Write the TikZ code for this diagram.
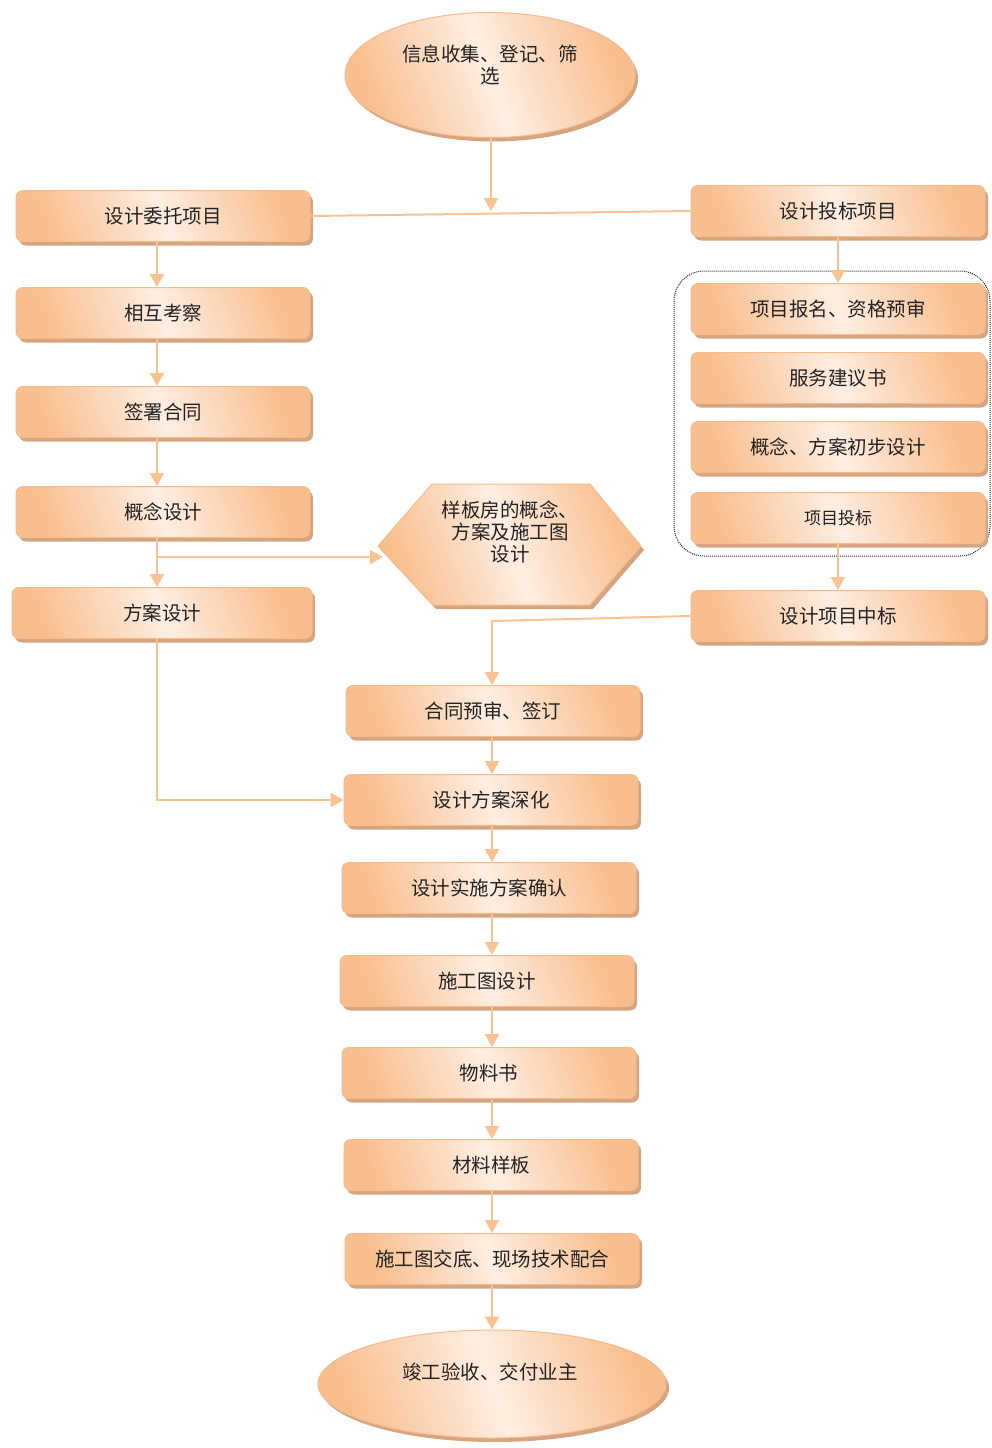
\documentclass[tikz,border=0pt]{standalone}
\usepackage{fontspec}
\newfontfamily\cjk{Noto Sans CJK SC}
\usetikzlibrary{shapes.geometric,shadows,arrows.meta}
\definecolor{edgeor}{RGB}{247,187,138}
\definecolor{darkor}{RGB}{249,190,142}
\definecolor{lightor}{RGB}{254,238,226}
\definecolor{shadowtan}{RGB}{212,165,128}
\definecolor{lineor}{RGB}{250,194,146}
\definecolor{txt}{RGB}{35,35,35}
\tikzset{
  boxfill/.style={left color=darkor, right color=darkor, middle color=lightor, shading angle=110},
  shade3d/.style={general shadow={fill=shadowtan, shadow xshift=3pt, shadow yshift=-4pt}},
  cjktext/.style={font=\cjk\fontsize{19.5}{22}\selectfont, text=txt, align=center},
  stepbox/.style={rectangle, rounded corners=7pt, draw=edgeor, line width=1pt, boxfill, shade3d,
    minimum width=294pt, minimum height=51pt, inner sep=0pt, cjktext},
  ovalbox/.style={ellipse, draw=edgeor, line width=1pt, boxfill, shade3d, inner sep=0pt},
  flow/.style={draw=lineor, line width=2pt, -{Triangle[width=14pt,length=13pt]}},
  plainline/.style={draw=lineor, line width=2pt},
}
\begin{document}
\begin{tikzpicture}[x=1pt,y=-1pt]
\useasboundingbox (0,0) rectangle (992,1448);

% top ellipse
\node[ovalbox, minimum width=290pt, minimum height=125pt] (start) at (490,75) {};
\node[cjktext] (starttxt) at (490,65) {信息收集、登记、筛\\选};

% left column
\node[stepbox] (L1) at (163,216) {设计委托项目};
\node[stepbox] (L2) at (163,313) {相互考察};
\node[stepbox] (L3) at (163,412) {签署合同};
\node[stepbox] (L4) at (163,512) {概念设计};
\node[stepbox, minimum width=300pt] (L5) at (162,613) {方案设计};

% right column
\node[stepbox] (R1) at (838,211) {设计投标项目};
\draw[densely dotted, line width=1pt, black!85, rounded corners=30pt] (674,271) rectangle (990,556);
\node[stepbox] (R2) at (838,309) {项目报名、资格预审};
\node[stepbox] (R3) at (838,378) {服务建议书};
\node[stepbox] (R4) at (838,447) {概念、方案初步设计};
\node[stepbox, font=\cjk\fontsize{17}{20}\selectfont] (R5) at (838,518) {项目投标};
\node[stepbox] (R6) at (838,616) {设计项目中标};

% hexagon
\path[draw=edgeor, line width=1pt, boxfill, shade3d]
  (432,484) -- (590,484) -- (641,546) -- (590,605) -- (433,605) -- (378,546) -- cycle;
\node[cjktext] (hex) at (510,532) {样板房的概念、\\方案及施工图\\设计};
\coordinate (hexin) at (383,557);

% middle column
\node[stepbox] (M1) at (493,711) {合同预审、签订};
\node[stepbox] (M2) at (491,800) {设计方案深化};
\node[stepbox] (M3) at (489,888) {设计实施方案确认};
\node[stepbox] (M4) at (487,981) {施工图设计};
\node[stepbox] (M5) at (489,1073) {物料书};
\node[stepbox] (M6) at (491,1165) {材料样板};
\node[stepbox] (M7) at (492,1259) {施工图交底、现场技术配合};

% bottom ellipse
\node[ovalbox, minimum width=348pt, minimum height=108pt] (finish) at (492,1384) {};
\node[cjktext] (finishtxt) at (490,1372) {竣工验收、交付业主};

% helper coordinates
\coordinate (lx) at (157,0);
\coordinate (rx) at (838,0);
\coordinate (mx) at (492,0);
\coordinate (j1) at (491,211);
\coordinate (b1) at (157,557);
\coordinate (c2) at (492,621);

% connectors
\draw[plainline] (L1.east) -- (R1.west);
\draw[flow] (start.south -| j1) -- (j1);
\draw[flow] (L1.south -| lx) -- (L2.north -| lx);
\draw[flow] (L2.south -| lx) -- (L3.north -| lx);
\draw[flow] (L3.south -| lx) -- (L4.north -| lx);
\draw[flow] (L4.south -| lx) -- (L5.north -| lx);
\draw[flow] (b1) -- (hexin);
\draw[flow] (L5.south -| lx) |- (M2.west);

\draw[flow] (R1.south -| rx) -- (R2.north -| rx);
\draw[flow] (R5.south -| rx) -- (R6.north -| rx);
\draw[plainline] (R6.west) -- (c2);
\draw[flow] (c2) -- (M1.north -| c2);

\draw[flow] (M1.south -| mx) -- (M2.north -| mx);
\draw[flow] (M2.south -| mx) -- (M3.north -| mx);
\draw[flow] (M3.south -| mx) -- (M4.north -| mx);
\draw[flow] (M4.south -| mx) -- (M5.north -| mx);
\draw[flow] (M5.south -| mx) -- (M6.north -| mx);
\draw[flow] (M6.south -| mx) -- (M7.north -| mx);
\draw[flow] (M7.south -| mx) -- (finish.north -| mx);
\end{tikzpicture}
\end{document}
